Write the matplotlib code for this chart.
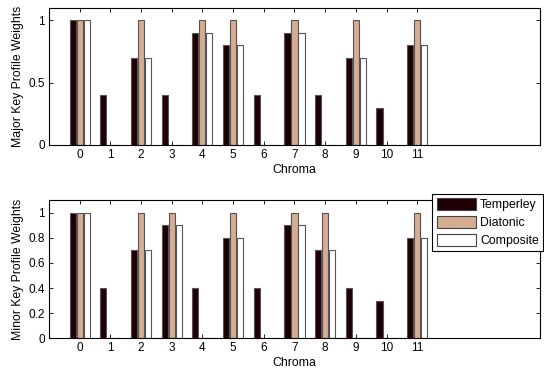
import matplotlib
matplotlib.use("Agg")
import matplotlib.pyplot as plt
import numpy as np

chroma = list(range(12))
series_names = ["Temperley", "Diatonic", "Composite"]
major_temperley = [1, 0.4, 0.7, 0.4, 0.9, 0.8, 0.4, 0.9, 0.4, 0.7, 0.3, 0.8]
major_diatonic = [1, 0, 1, 0, 1, 1, 0, 1, 0, 1, 0, 1]
major_composite = [1, 0, 0.7, 0, 0.9, 0.8, 0, 0.9, 0, 0.7, 0, 0.8]
minor_temperley = [1, 0.4, 0.7, 0.9, 0.4, 0.8, 0.4, 0.9, 0.7, 0.4, 0.3, 0.8]
minor_diatonic = [1, 0, 1, 1, 0, 1, 0, 1, 1, 0, 0, 1]
minor_composite = [1, 0, 0.7, 0.9, 0, 0.8, 0, 0.9, 0.7, 0, 0, 0.8]

colors = ["#1e0004", "#d4ad92", "#ffffff"]
edge = "#555555"

plt.rcParams["font.family"] = ["Liberation Sans", "DejaVu Sans"]
fs = 8.8

fig = plt.figure(figsize=(5.44, 3.73), dpi=100)
ax1 = fig.add_axes([0.090, 0.6113, 0.9026, 0.3673])
ax2 = fig.add_axes([0.090, 0.093, 0.9026, 0.3708])

x = np.array(chroma)
offsets = [-0.228, 0.0, 0.228]
bw = 0.2

def draw(ax, data, yticks, ylabel):
    handles = []
    for i, (vals, c) in enumerate(zip(data, colors)):
        h = ax.bar(x + offsets[i], vals, width=bw, color=c, edgecolor=edge,
                   linewidth=0.8, label=series_names[i], zorder=2)
        handles.append(h)
    ax.set_xlim(-1, 15)
    ax.set_ylim(0, 1.1)
    ax.set_xticks(chroma)
    ax.set_yticks(yticks)
    ax.set_yticklabels([("%g" % t) for t in yticks])
    ax.tick_params(direction="in", top=True, right=True, length=3, width=0.6,
                   labelsize=8.5, pad=3)
    for s in ax.spines.values():
        s.set_linewidth(0.8)
    ax.set_xlabel("Chroma", fontsize=fs, labelpad=2)
    ax.set_ylabel(ylabel, fontsize=fs, labelpad=3)
    return handles

draw(ax1, [major_temperley, major_diatonic, major_composite], [0, 0.5, 1],
     "Major Key Profile Weights")
hs = draw(ax2, [minor_temperley, minor_diatonic, minor_composite],
          [0, 0.2, 0.4, 0.6, 0.8, 1], "Minor Key Profile Weights")

leg = fig.legend(handles=hs, labels=series_names, loc="upper right",
                 bbox_to_anchor=(543 / 544, 1 - 194 / 373), fontsize=fs,
                 handlelength=3.2, handleheight=1.1, handletextpad=0.35,
                 borderpad=0.35, labelspacing=0.4, fancybox=False,
                 framealpha=1, edgecolor="black", borderaxespad=0)
leg.get_frame().set_linewidth(0.8)
for p in leg.get_patches():
    p.set_edgecolor("#444444")

fig.savefig("out.png", dpi=100)
